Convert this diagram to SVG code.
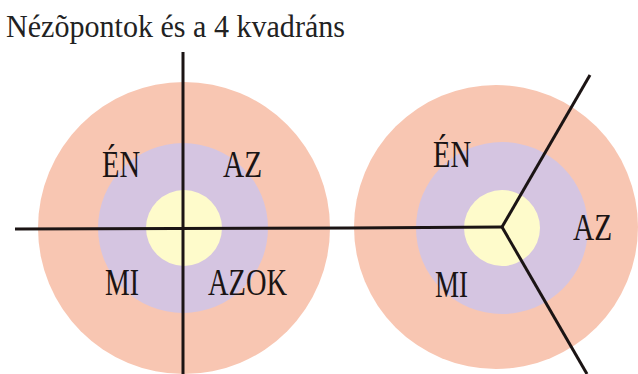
<svg xmlns="http://www.w3.org/2000/svg" width="638" height="374" viewBox="0 0 638 374">
<style>
.outer{fill:#F8C6B2}
.mid{fill:#D5C5E1}
.inner{fill:#FEFBCB}
.lbl{font-size:38px;fill:#1a1414}
.title{font-size:31px;fill:#222}
.ln{stroke:#1b1414;stroke-width:3;fill:none}
</style>
<rect width="638" height="374" fill="#ffffff"/>
<text id="title" class="title" font-family="Liberation Serif, serif" x="6" y="37" textLength="339" lengthAdjust="spacingAndGlyphs">Nézõpontok és a 4 kvadráns</text>
<g id="left-circle">
<circle class="outer" cx="184" cy="228" r="146"/>
<circle class="mid" cx="183" cy="228" r="85"/>
<circle class="inner" cx="184" cy="228" r="38"/>
</g>
<g id="right-circle">
<circle class="outer" cx="496" cy="227" r="142"/>
<circle class="mid" cx="502" cy="228" r="86"/>
<circle class="inner" cx="502" cy="228" r="38"/>
</g>
<g id="connectors">
<line class="ln" x1="183" y1="52" x2="183" y2="374"/>
<polyline class="ln" points="15,229 349,228 502,227"/>
<line class="ln" x1="502" y1="227" x2="590" y2="75"/>
<line class="ln" x1="502" y1="227" x2="587" y2="374"/>
</g>
<g id="left-labels" font-family="Liberation Serif, serif">
<text id="l-en" class="lbl" x="102" y="177" textLength="38" lengthAdjust="spacingAndGlyphs">ÉN</text>
<text id="l-az" class="lbl" x="223" y="177" textLength="39" lengthAdjust="spacingAndGlyphs">AZ</text>
<text id="l-mi" class="lbl" x="105" y="295" textLength="34" lengthAdjust="spacingAndGlyphs">MI</text>
<text id="l-azok" class="lbl" x="208" y="295" textLength="79" lengthAdjust="spacingAndGlyphs">AZOK</text>
</g>
<g id="right-labels" font-family="Liberation Serif, serif">
<text id="r-en" class="lbl" x="433" y="167" textLength="38" lengthAdjust="spacingAndGlyphs">ÉN</text>
<text id="r-az" class="lbl" x="573" y="240" textLength="39" lengthAdjust="spacingAndGlyphs">AZ</text>
<text id="r-mi" class="lbl" x="435" y="297" textLength="33" lengthAdjust="spacingAndGlyphs">MI</text>
</g>
</svg>
